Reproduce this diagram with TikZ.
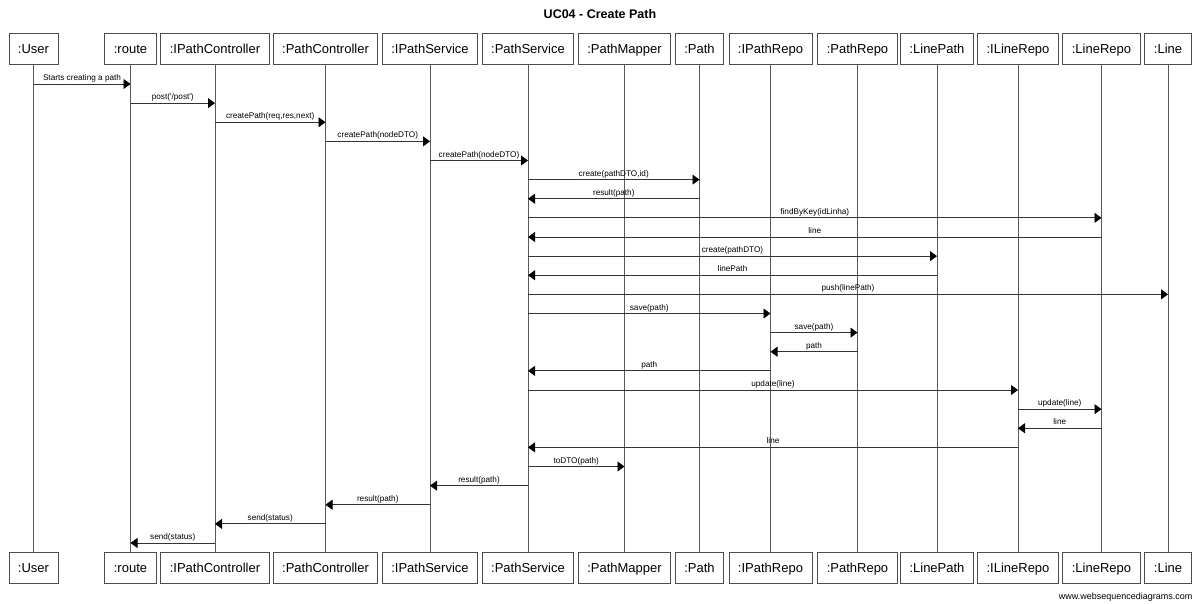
\documentclass[tikz,border=0pt]{standalone}
\usepackage{fontspec}
\setmainfont{Liberation Sans}
\usetikzlibrary{arrows.meta}

\begin{document}
\begin{tikzpicture}[x=1pt,y=-1pt,
  box/.style={draw=black!70,line width=0.9pt,minimum height=31pt,inner xsep=9pt,text height=9.4pt,text depth=0pt,font=\fontsize{13}{15}\selectfont},
  life/.style={draw=black!65,line width=0.8pt},
  msg/.style={draw=black!80,line width=0.8pt,-{Triangle[length=7pt,width=10pt,color=black]}},
  lbl/.style={font=\fontsize{8.2}{10}\selectfont,inner sep=1.2pt,text height=6pt,text depth=1.8pt}]
\useasboundingbox (0,0) rectangle (1200,604);
\node[font=\bfseries\fontsize{12.5}{15}\selectfont] (title) at (600,14.5) {UC04 - Create Path};
\foreach \nm/\lb/\x in {user/:User/33.5, route/:route/130.5, ipc/:IPathController/215, pc/:PathController/325.5,
  ips/:IPathService/430, ps/:PathService/528, pm/:PathMapper/624.5, pathobj/:Path/699.5, ipr/:IPathRepo/770.5,
  pr/:PathRepo/857.5, lp/:LinePath/937, ilr/:ILineRepo/1018, lr/:LineRepo/1101.5, lineobj/:Line/1168}{
  \node[box] (\nm) at (\x,48.5) {\lb};
  \node[box] (\nm B) at (\x,567.5) {\lb};
  \draw[life] (\nm) -- (\nm B);
}
\foreach \a/\b/\t [count=\i] in {user/route/Starts creating a path, route/ipc/{post(\textquotesingle/post\textquotesingle)},
  ipc/pc/{createPath(req,res,next)}, pc/ips/createPath(nodeDTO), ips/ps/createPath(nodeDTO), ps/pathobj/{create(pathDTO,id)},
  pathobj/ps/result(path), ps/lr/findByKey(idLinha), lr/ps/line, ps/lp/create(pathDTO), lp/ps/linePath,
  ps/lineobj/push(linePath), ps/ipr/save(path), ipr/pr/save(path), pr/ipr/path, ipr/ps/path, ps/ilr/update(line),
  ilr/lr/update(line), lr/ilr/line, ilr/ps/line, ps/pm/toDTO(path), ps/ips/result(path), ips/pc/result(path),
  pc/ipc/send(status), ipc/route/send(status)}{
  \pgfmathsetmacro\yy{84+(\i-1)*19.125}
  \draw[msg] (\a |- 0,\yy) -- (\b |- 0,\yy) node[lbl,midway,above]{\t};
}
\node[anchor=east,font=\fontsize{9}{11}\selectfont] (credit) at (1196,597) {www.websequencediagrams.com};
\end{tikzpicture}
\end{document}
